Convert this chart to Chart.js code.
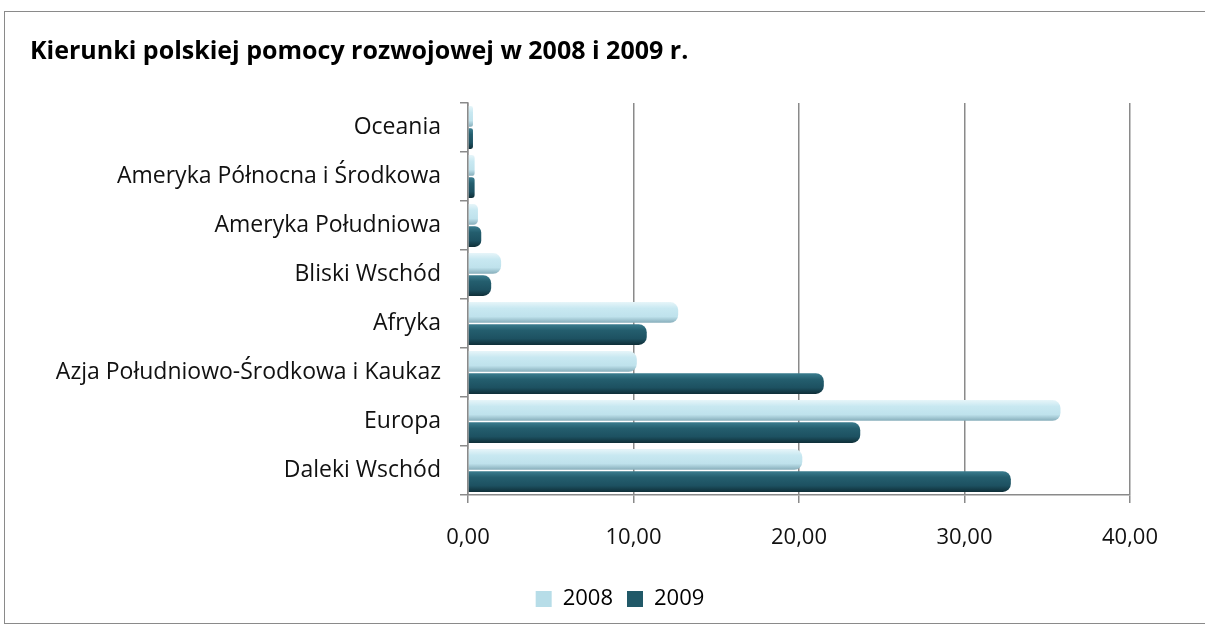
<!DOCTYPE html>
<html lang="pl">
<head>
    <meta charset="UTF-8">
    <title>Kierunki polskiej pomocy rozwojowej</title>
    <script src="https://cdn.jsdelivr.net/npm/chart.js@4.4.0/dist/chart.umd.min.js"></script>
    <style>
        html, body { margin: 0; padding: 0; background: #fff; }
        body { width: 1205px; height: 628px; overflow: hidden; position: relative; }
        .frame {
            position: absolute; left: 4px; top: 11px; width: 1220px; height: 613px;
            border: 1.5px solid #8a8a8a; box-sizing: border-box;
        }
        .chart-container { position: absolute; left: 0; top: 0; width: 1205px; height: 628px; }
    </style>
</head>
<body>
    <div class="frame"></div>
    <div class="chart-container">
        <canvas id="aidChart"></canvas>
    </div>

    <script>
        // dane (w %)
        const categories = ['Oceania', 'Ameryka Północna i Środkowa', 'Ameryka Południowa', 'Bliski Wschód',
            'Afryka', 'Azja Południowo-Środkowa i Kaukaz', 'Europa', 'Daleki Wschód'];
        const values2008 = [0.3, 0.4, 0.6, 2.0, 12.7, 10.2, 35.8, 20.2];
        const values2009 = [0.3, 0.4, 0.8, 1.4, 10.8, 21.5, 23.7, 32.8];
        const xTicks = [0, 10, 20, 30, 40];

        const FONT = "'Open Sans', 'DejaVu Sans', sans-serif";
        const TITLE = 'Kierunki polskiej pomocy rozwojowej w 2008 i 2009 r.';

        // cylinder-like shading for every bar + title + legend shift
        const shading = {
            id: 'shading',
            afterLayout(chart) {
                // legend in the original sits a bit right of centre
                chart.legend.left += 40;
                chart.legend.right += 40;
            },
            beforeDatasetsDraw(chart) {
                const ctx = chart.ctx;
                const stops = [
                    ['#e6f5f9', '#c8e8f1', '#bfe2ec', '#86adba'],
                    ['#3b7d8f', '#245e6e', '#1d5161', '#0f2f38']
                ];
                chart.data.datasets.forEach((ds, i) => {
                    chart.getDatasetMeta(i).data.forEach(bar => {
                        const top = bar.y - bar.height / 2;
                        const g = ctx.createLinearGradient(0, top, 0, top + bar.height);
                        g.addColorStop(0, stops[i][0]);
                        g.addColorStop(0.3, stops[i][1]);
                        g.addColorStop(0.7, stops[i][2]);
                        g.addColorStop(1, stops[i][3]);
                        bar.options.backgroundColor = g;
                    });
                });
            },
            afterDraw(chart) {
                const ctx = chart.ctx;
                ctx.save();
                ctx.fillStyle = '#000';
                ctx.font = 'bold 25px ' + FONT;
                ctx.textBaseline = 'middle';
                ctx.fillText(TITLE, 30, 52);
                ctx.restore();
            }
        };

        new Chart(document.getElementById('aidChart'), {
            type: 'bar',
            data: {
                labels: categories,
                datasets: [
                    {
                        label: '2008',
                        data: values2008,
                        backgroundColor: () => '#b7dde8',
                        borderRadius: { topRight: 8, bottomRight: 8 },
                        borderSkipped: 'start'
                    },
                    {
                        label: '2009',
                        data: values2009,
                        backgroundColor: () => '#215968',
                        borderRadius: { topRight: 8, bottomRight: 8 },
                        borderSkipped: 'start'
                    }
                ]
            },
            plugins: [shading],
            options: {
                indexAxis: 'y',
                responsive: true,
                maintainAspectRatio: false,
                animation: false,
                datasets: { bar: { categoryPercentage: 0.9, barPercentage: 0.94 } },
                layout: { padding: { left: 30, right: 75, top: 103, bottom: 8 } },
                plugins: {
                    title: { display: false },
                    legend: {
                        position: 'bottom',
                        labels: {
                            color: '#000',
                            font: { family: FONT, size: 22 },
                            boxWidth: 16,
                            boxHeight: 16,
                            padding: 14,
                            generateLabels(chart) {
                                return chart.data.datasets.map((ds, i) => ({
                                    text: ds.label,
                                    fillStyle: i === 0 ? '#b7dde8' : '#215968',
                                    strokeStyle: i === 0 ? '#b7dde8' : '#215968',
                                    lineWidth: 0,
                                    datasetIndex: i
                                }));
                            }
                        }
                    },
                    tooltip: { enabled: false }
                },
                scales: {
                    x: {
                        min: 0,
                        max: 40,
                        afterBuildTicks(scale) { scale.ticks = xTicks.map(v => ({ value: v })); },
                        afterFit(scale) { scale.height = 79; },
                        border: { color: '#8a8a8a', width: 1.5 },
                        grid: { color: '#8a8a8a', lineWidth: 1.5, tickLength: 8 },
                        ticks: {
                            color: '#111',
                            padding: 22,
                            font: { family: FONT, size: 22 },
                            callback: v => v.toFixed(2).replace('.', ',')
                        }
                    },
                    y: {
                        afterFit(scale) { scale.width = 438; },
                        border: { color: '#8a8a8a', width: 1.5 },
                        grid: { color: '#8a8a8a', lineWidth: 1.5, drawOnChartArea: false, tickLength: 8, offset: true },
                        ticks: {
                            color: '#111',
                            padding: 19,
                            font: { family: FONT, size: 23 }
                        }
                    }
                }
            }
        });
    </script>
</body>
</html>
